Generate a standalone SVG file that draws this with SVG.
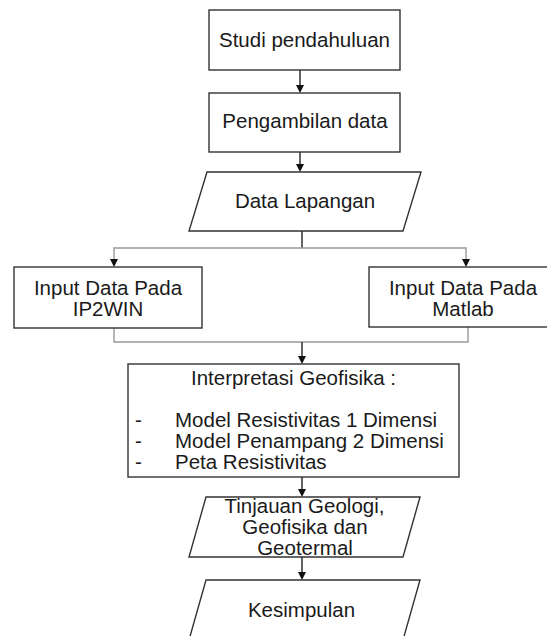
<svg xmlns="http://www.w3.org/2000/svg" width="547" height="636" viewBox="0 0 547 636">
<style>
.box{fill:#fff;stroke:#333;stroke-width:1.4}
.t{font-family:"Liberation Sans",Arial,sans-serif;font-size:20.5px;fill:#1a1a1a}
.c{text-anchor:middle}
.dk{fill:none;stroke:#222;stroke-width:1.4}
.gr{fill:none;stroke:#999;stroke-width:1.4}
.ah{fill:#111}
</style>
<rect width="547" height="636" fill="#fff"/>
<g id="connectors">
<line class="dk" x1="300" y1="70" x2="300" y2="86"/>
<path class="ah" d="M296,85 L304,85 L300,93 Z"/>
<line class="dk" x1="300" y1="152" x2="300" y2="165"/>
<path class="ah" d="M296,164 L304,164 L300,172 Z"/>
<line class="dk" x1="302" y1="231" x2="302" y2="248"/>
<path class="gr" d="M114,260 V248 H466 V260"/>
<path class="ah" d="M110,259 L118,259 L114,267 Z"/>
<path class="ah" d="M462,259 L470,259 L466,267 Z"/>
<path class="gr" d="M114,328 V342 H468 V327"/>
<line class="dk" x1="302" y1="342" x2="302" y2="357"/>
<path class="ah" d="M298,356 L306,356 L302,364 Z"/>
<line class="dk" x1="302" y1="477" x2="302" y2="490"/>
<path class="ah" d="M298,489 L306,489 L302,497 Z"/>
<line class="dk" x1="302" y1="557" x2="302" y2="573"/>
<path class="ah" d="M298,572 L306,572 L302,580 Z"/>
</g>
<g id="n1">
<rect class="box" x="209" y="10" width="191" height="60"/>
<text class="t c" x="304.5" y="47">Studi pendahuluan</text>
</g>
<g id="n2">
<rect class="box" x="209" y="93" width="191" height="59"/>
<text class="t c" x="305" y="128">Pengambilan data</text>
</g>
<g id="n3">
<polygon class="box" points="207,172 421,172 403,231 189,231"/>
<text class="t c" x="305" y="208">Data Lapangan</text>
</g>
<g id="n4">
<rect class="box" x="14" y="267" width="188" height="61"/>
<text class="t c" x="108" y="295">Input Data Pada</text>
<text class="t c" x="108" y="316">IP2WIN</text>
</g>
<g id="n5">
<rect class="box" x="369" y="267" width="190" height="60"/>
<text class="t c" x="463" y="295">Input Data Pada</text>
<text class="t c" x="463" y="316">Matlab</text>
</g>
<g id="n6">
<rect class="box" x="128" y="364" width="331" height="113"/>
<text class="t c" x="293.5" y="385">Interpretasi Geofisika :</text>
<text class="t" x="135" y="427">-</text>
<text class="t" x="175" y="427">Model Resistivitas 1 Dimensi</text>
<text class="t" x="135" y="448">-</text>
<text class="t" x="175" y="448">Model Penampang 2 Dimensi</text>
<text class="t" x="135" y="469">-</text>
<text class="t" x="175" y="469">Peta Resistivitas</text>
</g>
<g id="n7">
<polygon class="box" points="206,497 420,497 403,557 189,557"/>
<text class="t c" x="304.5" y="513">Tinjauan Geologi,</text>
<text class="t c" x="305" y="534">Geofisika dan</text>
<text class="t c" x="305" y="555">Geotermal</text>
</g>
<g id="n8">
<polygon class="box" points="206,580 420,580 403,640 189,640"/>
<text class="t c" x="301.5" y="617">Kesimpulan</text>
</g>
</svg>
